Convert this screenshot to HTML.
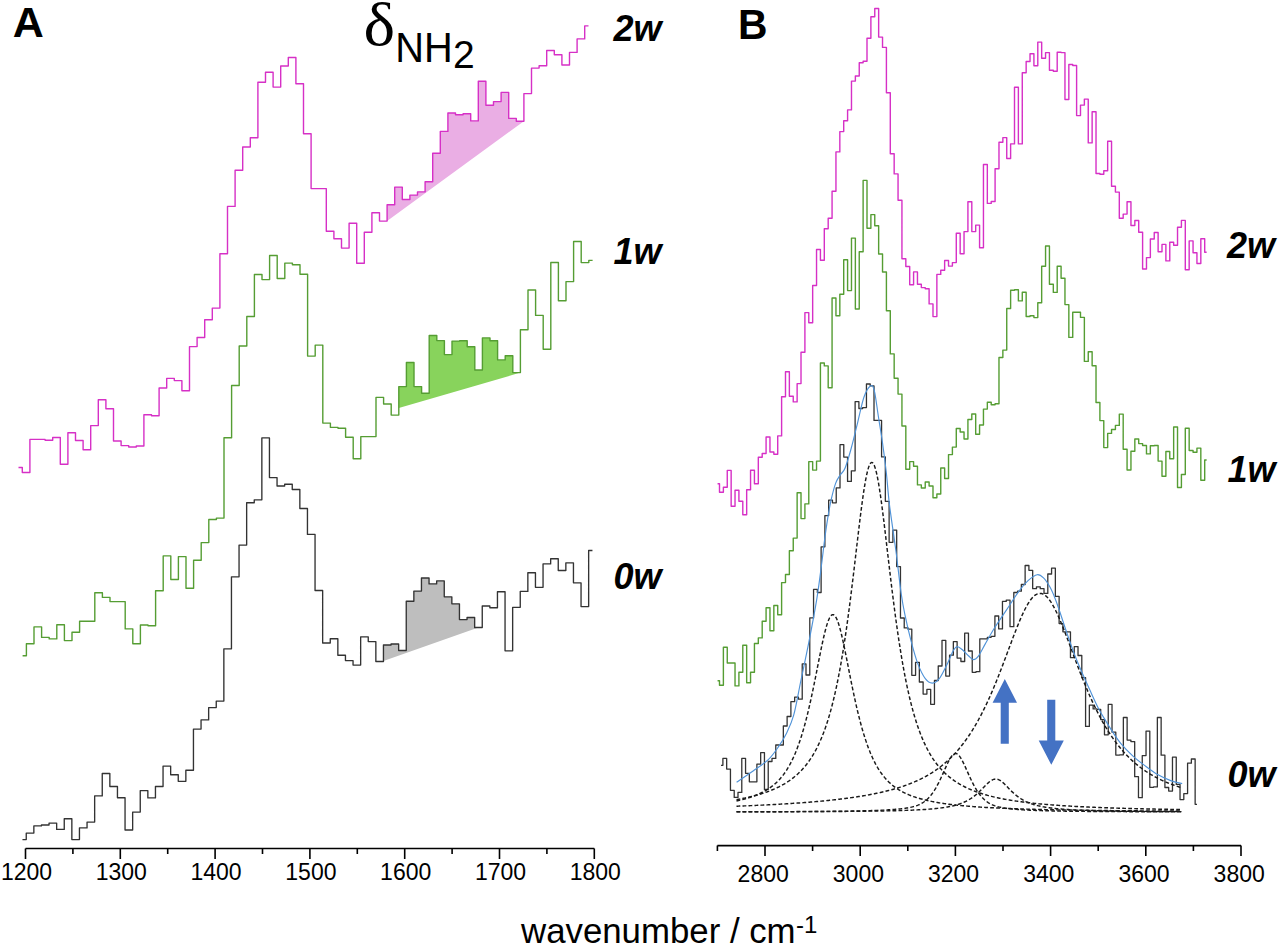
<!DOCTYPE html>
<html><head><meta charset="utf-8"><style>
html,body{margin:0;padding:0;background:#fff;overflow:hidden;}
svg{display:block;}
text{font-family:"Liberation Sans",sans-serif;fill:#000;}
.tl{font-size:23px;text-anchor:middle;}
.pl{font-size:43px;font-weight:bold;}
.wl{font-size:36px;font-weight:bold;font-style:italic;}
.dl{font-family:"Liberation Serif",serif;font-size:61px;}
.nh{font-size:43px;}
.n2{font-size:39px;}
.xl{font-size:34.8px;}
.xs{font-size:24px;}
</style></head><body>
<svg width="1280" height="946" viewBox="0 0 1280 946">
<path d="M25.5,848.5H594.3" stroke="#000" stroke-width="1.6" fill="none"/>
<path d="M25.5,848.5v10.5M72.9,848.5v5.5M120.3,848.5v10.5M167.7,848.5v5.5M215.1,848.5v10.5M262.5,848.5v5.5M309.9,848.5v10.5M357.3,848.5v5.5M404.7,848.5v10.5M452.1,848.5v5.5M499.5,848.5v10.5M546.9,848.5v5.5M594.3,848.5v10.5" stroke="#000" stroke-width="1.6" fill="none"/>
<text x="26.5" y="880.3" class="tl">1200</text>
<text x="121.3" y="880.3" class="tl">1300</text>
<text x="216.1" y="880.3" class="tl">1400</text>
<text x="310.9" y="880.3" class="tl">1500</text>
<text x="405.7" y="880.3" class="tl">1600</text>
<text x="500.5" y="880.3" class="tl">1700</text>
<text x="595.3" y="880.3" class="tl">1800</text>
<path d="M717.4,845.6H1241.0" stroke="#000" stroke-width="1.6" fill="none"/>
<path d="M717.4,845.6v5.5M765.0,845.6v10.5M812.6,845.6v5.5M860.2,845.6v10.5M907.8,845.6v5.5M955.4,845.6v10.5M1003.0,845.6v5.5M1050.6,845.6v10.5M1098.2,845.6v5.5M1145.8,845.6v10.5M1193.4,845.6v5.5M1241.0,845.6v10.5" stroke="#000" stroke-width="1.6" fill="none"/>
<text x="763.2" y="881.8" class="tl">2800</text>
<text x="858.4" y="881.8" class="tl">3000</text>
<text x="953.6" y="881.8" class="tl">3200</text>
<text x="1048.8" y="881.8" class="tl">3400</text>
<text x="1144.0" y="881.8" class="tl">3600</text>
<text x="1239.2" y="881.8" class="tl">3800</text>
<polygon points="387.10,221.10 387.10,204.80 394.70,204.80 394.70,187.10 402.30,187.10 402.30,199.50 409.90,199.50 409.90,195.10 417.50,195.10 417.50,191.90 425.10,191.90 425.10,181.70 432.70,181.70 432.70,153.30 440.30,153.30 440.30,131.40 447.90,131.40 447.90,113.00 455.50,113.00 455.50,114.80 463.10,114.80 463.10,113.80 470.70,113.80 470.70,120.90 478.30,120.90 478.30,81.30 485.90,81.30 485.90,105.30 493.50,105.30 493.50,101.60 501.10,101.60 501.10,92.40 508.70,92.40 508.70,118.40 516.30,118.40 516.30,121.20 523.90,121.20 523.90,121.20" fill="#eaaee4"/>
<polygon points="398.80,408.00 398.80,386.60 406.40,386.60 406.40,362.50 414.00,362.50 414.00,386.60 421.60,386.60 421.60,393.30 429.20,393.30 429.20,335.50 436.80,335.50 436.80,340.60 444.40,340.60 444.40,354.60 452.00,354.60 452.00,341.10 459.60,341.10 459.60,340.80 467.20,340.80 467.20,346.80 474.80,346.80 474.80,370.00 482.40,370.00 482.40,337.90 490.00,337.90 490.00,340.80 497.60,340.80 497.60,359.90 505.20,359.90 505.20,355.70 512.80,355.70 512.80,372.60 520.40,372.60 520.40,372.60" fill="#88d35c"/>
<polygon points="383.45,661.00 383.45,645.00 391.05,645.00 391.05,644.00 398.65,644.00 398.65,650.50 406.25,650.50 406.25,601.20 413.85,601.20 413.85,591.10 421.45,591.10 421.45,578.00 429.05,578.00 429.05,583.90 436.65,583.90 436.65,580.90 444.25,580.90 444.25,596.80 451.85,596.80 451.85,603.80 459.45,603.80 459.45,619.60 467.05,619.60 467.05,617.50 474.65,617.50 474.65,627.50 478.40,627.50 478.40,627.50" fill="#bebebe"/>
<path d="M18.50,467.50H22.30V472.50H29.90V439.40H37.50V439.40H45.10V440.20H52.70V437.50H60.30V464.20H67.90V432.80H75.50V440.50H83.10V449.80H90.70V425.60H98.30V399.80H105.90V408.75H113.50V441.00H121.10V445.60H128.70V447.00H136.30V446.00H143.90V414.70H151.50V415.80H159.10V388.00H166.70V378.40H174.30V380.60H181.90V390.80H189.50V346.60H197.10V337.50H204.70V319.70H212.30V308.10H219.90V253.70H227.50V206.40H235.10V170.20H242.70V147.00H250.30V137.70H257.90V82.30H265.50V72.30H273.10V87.10H280.70V66.00H288.30V57.50H295.90V83.80H303.50V133.70H311.10V188.60H318.70V188.60H326.30V231.20H333.90V238.80H341.50V248.10H349.10V223.20H356.70V263.30H364.30V232.20H371.90V212.80H379.50V221.10H387.10V204.80H394.70V187.10H402.30V199.50H409.90V195.10H417.50V191.90H425.10V181.70H432.70V153.30H440.30V131.40H447.90V113.00H455.50V114.80H463.10V113.80H470.70V120.90H478.30V81.30H485.90V105.30H493.50V101.60H501.10V92.40H508.70V118.40H516.30V121.20H523.90V93.60H531.50V68.10H539.10V65.70H546.70V50.50H554.30V54.80H561.90V65.00H569.50V52.40H577.10V38.90H584.70V25.90H588.50" stroke="#d630c6" stroke-width="1.4" fill="none" stroke-linejoin="round"/>
<path d="M22.60,655.80H26.40V643.80H34.00V626.90H41.60V637.40H49.20V638.90H56.80V624.70H64.40V640.60H72.00V632.30H79.60V621.20H87.20V621.20H94.80V592.70H102.40V597.40H110.00V601.60H117.60V601.60H125.20V628.90H132.80V643.80H140.40V625.00H148.00V625.70H155.60V590.70H163.20V555.90H170.80V579.50H178.40V556.60H186.00V588.20H193.60V560.30H201.20V542.60H208.80V519.50H216.40V518.10H224.00V437.80H231.60V385.50H239.20V346.00H246.80V316.50H254.40V274.50H262.00V279.60H269.60V255.50H277.20V278.50H284.80V263.10H292.40V264.70H300.00V274.30H307.60V356.10H315.20V345.10H322.80V423.10H330.40V427.40H338.00V428.30H345.60V437.30H353.20V458.80H360.80V436.60H368.40V436.60H376.00V397.40H383.60V404.00H391.20V415.10H398.80V386.60H406.40V362.50H414.00V386.60H421.60V393.30H429.20V335.50H436.80V340.60H444.40V354.60H452.00V341.10H459.60V340.80H467.20V346.80H474.80V370.00H482.40V337.90H490.00V340.80H497.60V359.90H505.20V355.70H512.80V372.60H520.40V329.80H528.00V290.00H535.60V315.40H543.20V349.20H550.80V262.50H558.40V300.70H566.00V281.60H573.60V241.50H581.20V262.60H588.80V260.40H592.60" stroke="#559d33" stroke-width="1.4" fill="none" stroke-linejoin="round"/>
<path d="M22.45,839.60H26.25V833.10H33.85V825.90H41.45V825.00H49.05V823.10H56.65V829.40H64.25V818.75H71.85V839.60H79.45V827.90H87.05V822.10H94.65V795.90H102.25V773.50H109.85V786.50H117.45V797.75H125.05V830.00H132.65V812.10H140.25V790.60H147.85V797.90H155.45V786.50H163.05V766.10H170.65V774.70H178.25V781.30H185.85V770.20H193.45V729.10H201.05V719.90H208.65V707.60H216.25V701.10H223.85V648.80H231.45V576.80H239.05V545.10H246.65V502.70H254.25V499.80H261.85V437.90H269.45V477.60H277.05V486.00H284.65V484.20H292.25V489.50H299.85V508.50H307.45V534.40H315.05V590.50H322.65V643.00H330.25V638.70H337.85V655.20H345.45V660.60H353.05V665.10H360.65V636.80H368.25V641.60H375.85V661.50H383.45V645.00H391.05V644.00H398.65V650.50H406.25V601.20H413.85V591.10H421.45V578.00H429.05V583.90H436.65V580.90H444.25V596.80H451.85V603.80H459.45V619.60H467.05V617.50H474.65V627.50H482.25V606.00H489.85V607.70H497.45V591.70H505.05V650.80H512.65V607.30H520.25V591.40H527.85V572.70H535.45V587.30H543.05V563.90H550.65V558.70H558.25V570.50H565.85V562.80H573.45V582.80H581.05V606.60H588.65V550.50H592.45" stroke="#333333" stroke-width="1.35" fill="none" stroke-linejoin="round"/>
<path d="M717.56,483.70H719.50V492.20H723.38V487.20H727.26V470.40H731.15V506.30H735.03V490.30H738.91V501.20H742.79V514.80H746.67V489.70H750.55V470.20H754.44V483.70H758.32V457.30H762.20V453.50H766.08V437.00H769.96V452.00H773.84V454.30H777.72V435.90H781.61V396.80H785.49V371.80H789.37V396.30H793.25V401.90H797.13V383.60H801.01V352.30H804.90V312.60H808.78V322.70H812.66V285.50H816.54V249.50H820.42V260.20H824.30V228.70H828.19V218.20H832.07V191.20H835.95V151.90H839.83V131.60H843.71V120.70H847.59V109.90H851.48V81.10H855.36V76.00H859.24V62.80H863.12V61.20H867.00V38.20H870.88V16.80H874.76V8.50H878.65V37.10H882.53V47.40H886.41V92.80H890.29V153.80H894.17V173.90H898.05V200.30H901.94V258.80H905.82V266.50H909.70V284.80H913.58V271.90H917.46V284.20H921.34V287.60H925.23V288.70H929.11V303.90H932.99V316.60H936.87V274.40H940.75V270.30H944.63V260.50H948.52V266.10H952.40V262.60H956.28V233.30H960.16V253.80H964.04V231.60H967.92V201.80H971.80V231.60H975.69V225.10H979.57V247.70H983.45V164.50H987.33V203.40H991.21V201.50H995.09V168.80H998.98V142.30H1002.86V137.60H1006.74V158.50H1010.62V143.90H1014.50V87.30H1018.38V143.90H1022.27V72.80H1026.15V61.50H1030.03V53.80H1033.91V65.80H1037.79V42.10H1041.67V58.20H1045.56V52.60H1049.44V70.30H1053.32V71.20H1057.20V52.20H1061.08V52.60H1064.96V99.50H1068.84V64.50H1072.73V65.50H1076.61V115.60H1080.49V105.10H1084.37V99.10H1088.25V142.90H1092.13V111.70H1096.02V173.50H1099.90V174.20H1103.78V170.80H1107.66V141.20H1111.54V186.30H1115.42V192.10H1119.31V218.20H1123.19V214.10H1127.07V201.70H1130.95V225.50H1134.83V220.50H1138.71V232.30H1142.60V269.00H1146.48V257.60H1150.36V239.00H1154.24V232.50H1158.12V251.70H1162.00V244.40H1165.88V260.90H1169.77V242.30H1173.65V245.20H1177.53V227.30H1181.41V220.40H1185.29V269.70H1189.17V240.90H1193.06V252.80H1196.94V263.50H1200.82V238.80H1204.70V252.30H1206.64" stroke="#d630c6" stroke-width="1.4" fill="none" stroke-linejoin="round"/>
<path d="M717.56,680.70H719.50V685.30H723.38V647.20H727.26V663.00H731.15V663.00H735.03V685.90H738.91V672.30H742.79V645.20H746.67V682.70H750.55V672.30H754.44V643.50H758.32V637.90H762.20V621.20H766.08V607.70H769.96V630.70H773.84V605.50H777.72V614.70H781.61V582.60H785.49V574.50H789.37V550.80H793.25V538.10H797.13V492.80H801.01V518.60H804.90V503.90H808.78V461.60H812.66V470.10H816.54V461.10H820.42V363.00H824.30V365.90H828.19V387.80H832.07V298.00H835.95V315.80H839.83V294.20H843.71V259.80H847.59V290.60H851.48V238.10H855.36V309.00H859.24V251.70H863.12V180.40H867.00V228.20H870.88V214.60H874.76V225.70H878.65V254.00H882.53V272.00H886.41V310.70H890.29V353.90H894.17V378.20H898.05V394.10H901.94V426.00H905.82V469.30H909.70V461.60H913.58V466.20H917.46V484.90H921.34V488.00H925.23V482.00H929.11V486.00H932.99V497.80H936.87V494.00H940.75V468.00H944.63V478.50H948.52V454.60H952.40V447.10H956.28V428.50H960.16V432.00H964.04V439.00H967.92V419.50H971.80V414.00H975.69V434.30H979.57V425.00H983.45V409.10H987.33V402.20H991.21V404.80H995.09V403.70H998.98V357.50H1002.86V350.10H1006.74V308.50H1010.62V290.30H1014.50V289.80H1018.38V300.90H1022.27V292.20H1026.15V316.50H1030.03V315.70H1033.91V317.60H1037.79V302.80H1041.67V266.30H1045.56V246.00H1049.44V284.20H1053.32V292.40H1057.20V266.30H1061.08V278.30H1064.96V304.60H1068.84V337.40H1072.73V312.30H1076.61V312.30H1080.49V317.40H1084.37V361.40H1088.25V351.70H1092.13V365.80H1096.02V402.50H1099.90V420.60H1103.78V447.60H1107.66V433.40H1111.54V429.50H1115.42V425.40H1119.31V414.10H1123.19V449.20H1127.07V470.00H1130.95V451.30H1134.83V439.00H1138.71V443.60H1142.60V445.50H1146.48V453.90H1150.36V445.70H1154.24V445.50H1158.12V461.10H1162.00V476.30H1165.88V451.50H1169.77V458.70H1173.65V427.00H1177.53V487.50H1181.41V474.50H1185.29V428.30H1189.17V450.50H1193.06V452.30H1196.94V448.10H1200.82V480.30H1204.70V460.00H1206.64" stroke="#559d33" stroke-width="1.4" fill="none" stroke-linejoin="round"/>
<path d="M721.00,765.30H722.89V758.40H726.67V769.10H730.45V790.30H734.22V797.40H738.00V792.40H741.78V758.40H745.56V773.30H749.34V781.80H753.11V781.80H756.89V764.10H760.67V752.60H764.45V789.40H768.23V761.50H772.00V758.40H775.78V745.00H779.56V745.00H783.34V726.00H787.12V716.50H790.89V701.70H794.67V697.10H798.45V699.20H802.23V663.90H806.00V675.00H809.78V617.90H813.56V589.30H817.34V592.50H821.12V546.80H824.89V515.60H828.67V500.10H832.45V502.80H836.23V487.90H840.01V444.60H843.78V457.10H847.56V481.40H851.34V470.80H855.12V401.70H858.90V408.50H862.67V407.60H866.45V384.00H870.23V385.90H874.01V420.40H877.79V420.40H881.57V456.90H885.34V501.30H889.12V542.30H892.90V530.20H896.68V566.60H900.46V618.00H904.23V627.90H908.01V629.20H911.79V675.30H915.57V662.30H919.35V682.00H923.12V694.10H926.90V689.30H930.68V704.30H934.46V680.50H938.24V666.00H942.01V640.30H945.79V676.10H949.57V655.20H953.35V641.60H957.12V658.10H960.90V661.50H964.68V633.20H968.46V651.00H972.24V672.30H976.01V671.70H979.79V638.80H983.57V638.80H987.35V637.30H991.13V636.30H994.90V616.00H998.68V628.90H1002.46V601.40H1006.24V600.10H1010.02V626.70H1013.80V592.50H1017.57V591.20H1021.35V584.50H1025.13V565.50H1028.91V570.30H1032.68V588.70H1036.46V586.80H1040.24V588.70H1044.02V593.40H1047.80V574.00H1051.58V568.20H1055.35V596.30H1059.13V623.60H1062.91V631.80H1066.69V631.80H1070.46V657.70H1074.24V646.60H1078.02V655.50H1081.80V677.70H1085.58V726.40H1089.36V705.10H1093.13V708.90H1096.91V709.30H1100.69V719.60H1104.47V734.80H1108.24V704.40H1112.02V732.20H1115.80V755.10H1119.58V754.80H1123.36V717.50H1127.13V740.10H1130.91V741.60H1134.69V776.70H1138.47V797.70H1142.25V755.60H1146.03V731.10H1149.80V787.30H1153.58V786.90H1157.36V717.50H1161.14V755.20H1164.91V787.50H1168.69V791.10H1172.47V757.10H1176.25V784.40H1180.03V799.60H1183.81V793.60H1187.58V763.20H1191.36V759.00H1195.14V804.30H1197.03" stroke="#333333" stroke-width="1.3" fill="none" stroke-linejoin="round"/>
<path d="M736.50,800.94 L737.50,800.72 L738.50,800.50 L739.50,800.26 L740.50,800.03 L741.50,799.78 L742.50,799.53 L743.50,799.27 L744.50,799.00 L745.50,798.72 L746.50,798.44 L747.50,798.14 L748.50,797.84 L749.50,797.52 L750.50,797.20 L751.50,796.86 L752.50,796.51 L753.50,796.15 L754.50,795.78 L755.50,795.39 L756.50,794.99 L757.50,794.58 L758.50,794.15 L759.50,793.70 L760.50,793.23 L761.50,792.75 L762.50,792.25 L763.50,791.73 L764.50,791.19 L765.50,790.62 L766.50,790.03 L767.50,789.42 L768.50,788.77 L769.50,788.10 L770.50,787.40 L771.50,786.67 L772.50,785.91 L773.50,785.10 L774.50,784.26 L775.50,783.39 L776.50,782.46 L777.50,781.50 L778.50,780.48 L779.50,779.42 L780.50,778.30 L781.50,777.12 L782.50,775.89 L783.50,774.59 L784.50,773.22 L785.50,771.79 L786.50,770.28 L787.50,768.69 L788.50,767.02 L789.50,765.27 L790.50,763.42 L791.50,761.48 L792.50,759.44 L793.50,757.30 L794.50,755.05 L795.50,752.69 L796.50,750.21 L797.50,747.61 L798.50,744.88 L799.50,742.03 L800.50,739.04 L801.50,735.91 L802.50,732.64 L803.50,729.23 L804.50,725.68 L805.50,721.97 L806.50,718.12 L807.50,714.12 L808.50,709.97 L809.50,705.68 L810.50,701.25 L811.50,696.68 L812.50,691.99 L813.50,687.19 L814.50,682.29 L815.50,677.31 L816.50,672.28 L817.50,667.20 L818.50,662.12 L819.50,657.07 L820.50,652.09 L821.50,647.21 L822.50,642.49 L823.50,637.97 L824.50,633.71 L825.50,629.75 L826.50,626.15 L827.50,622.96 L828.50,620.23 L829.50,618.00 L830.50,616.31 L831.50,615.18 L832.50,614.65 L833.50,614.71 L834.50,615.36 L835.50,616.60 L836.50,618.40 L837.50,620.73 L838.50,623.56 L839.50,626.84 L840.50,630.51 L841.50,634.54 L842.50,638.86 L843.50,643.42 L844.50,648.18 L845.50,653.08 L846.50,658.08 L847.50,663.14 L848.50,668.22 L849.50,673.29 L850.50,678.32 L851.50,683.28 L852.50,688.16 L853.50,692.94 L854.50,697.61 L855.50,702.14 L856.50,706.55 L857.50,710.81 L858.50,714.93 L859.50,718.90 L860.50,722.72 L861.50,726.40 L862.50,729.93 L863.50,733.31 L864.50,736.55 L865.50,739.65 L866.50,742.61 L867.50,745.44 L868.50,748.14 L869.50,750.71 L870.50,753.17 L871.50,755.51 L872.50,757.74 L873.50,759.86 L874.50,761.88 L875.50,763.80 L876.50,765.62 L877.50,767.36 L878.50,769.01 L879.50,770.59 L880.50,772.08 L881.50,773.50 L882.50,774.85 L883.50,776.14 L884.50,777.36 L885.50,778.52 L886.50,779.63 L887.50,780.69 L888.50,781.69 L889.50,782.65 L890.50,783.56 L891.50,784.44 L892.50,785.27 L893.50,786.06 L894.50,786.82 L895.50,787.55 L896.50,788.24 L897.50,788.90 L898.50,789.54 L899.50,790.15 L900.50,790.73 L901.50,791.30 L902.50,791.83 L903.50,792.35 L904.50,792.85 L905.50,793.33 L906.50,793.79 L907.50,794.23 L908.50,794.66 L909.50,795.07 L910.50,795.47 L911.50,795.85 L912.50,796.22 L913.50,796.58 L914.50,796.93 L915.50,797.26 L916.50,797.58 L917.50,797.90 L918.50,798.20 L919.50,798.49 L920.50,798.78 L921.50,799.05 L922.50,799.32 L923.50,799.58 L924.50,799.83 L925.50,800.07 L926.50,800.31 L927.50,800.54 L928.50,800.76 L929.50,800.98 L930.50,801.19 L931.50,801.40 L932.50,801.60 L933.50,801.79 L934.50,801.98 L935.50,802.16 L936.50,802.34 L937.50,802.51 L938.50,802.68 L939.50,802.85 L940.50,803.01 L941.50,803.16 L942.50,803.32 L943.50,803.47 L944.50,803.61 L945.50,803.75 L946.50,803.89 L947.50,804.02 L948.50,804.16 L949.50,804.28 L950.50,804.41 L951.50,804.53 L952.50,804.65 L953.50,804.77 L954.50,804.88 L955.50,804.99 L956.50,805.10 L957.50,805.20 L958.50,805.31 L959.50,805.41 L960.50,805.51 L961.50,805.61 L962.50,805.70 L963.50,805.79 L964.50,805.88 L965.50,805.97 L966.50,806.06 L967.50,806.14 L968.50,806.23 L969.50,806.31 L970.50,806.39 L971.50,806.47 L972.50,806.54 L973.50,806.62 L974.50,806.69 L975.50,806.76 L976.50,806.83 L977.50,806.90 L978.50,806.97 L979.50,807.04 L980.50,807.10 L981.50,807.17 L982.50,807.23 L983.50,807.29 L984.50,807.35 L985.50,807.41 L986.50,807.47 L987.50,807.52 L988.50,807.58 L989.50,807.64 L990.50,807.69 L991.50,807.74 L992.50,807.79 L993.50,807.84 L994.50,807.89 L995.50,807.94 L996.50,807.99 L997.50,808.04 L998.50,808.09 L999.50,808.13 L1000.50,808.18 L1001.50,808.22 L1002.50,808.26 L1003.50,808.31 L1004.50,808.35 L1005.50,808.39 L1006.50,808.43 L1007.50,808.47 L1008.50,808.51 L1009.50,808.55 L1010.50,808.59 L1011.50,808.62 L1012.50,808.66 L1013.50,808.70 L1014.50,808.73 L1015.50,808.77 L1016.50,808.80 L1017.50,808.84 L1018.50,808.87 L1019.50,808.90 L1020.50,808.94 L1021.50,808.97 L1022.50,809.00 L1023.50,809.03 L1024.50,809.06 L1025.50,809.09 L1026.50,809.12 L1027.50,809.15 L1028.50,809.18 L1029.50,809.20 L1030.50,809.23 L1031.50,809.26 L1032.50,809.29 L1033.50,809.31 L1034.50,809.34 L1035.50,809.37 L1036.50,809.39 L1037.50,809.42 L1038.50,809.44 L1039.50,809.47 L1040.50,809.49 L1041.50,809.51 L1042.50,809.54 L1043.50,809.56 L1044.50,809.58 L1045.50,809.60 L1046.50,809.63 L1047.50,809.65 L1048.50,809.67 L1049.50,809.69 L1050.50,809.71 L1051.50,809.73 L1052.50,809.75 L1053.50,809.77 L1054.50,809.79 L1055.50,809.81 L1056.50,809.83 L1057.50,809.85 L1058.50,809.87 L1059.50,809.89 L1060.50,809.91 L1061.50,809.92 L1062.50,809.94 L1063.50,809.96 L1064.50,809.98 L1065.50,809.99 L1066.50,810.01 L1067.50,810.03 L1068.50,810.04 L1069.50,810.06 L1070.50,810.08 L1071.50,810.09 L1072.50,810.11 L1073.50,810.12 L1074.50,810.14 L1075.50,810.15 L1076.50,810.17 L1077.50,810.18 L1078.50,810.20 L1079.50,810.21 L1080.50,810.23 L1081.50,810.24 L1082.50,810.26 L1083.50,810.27 L1084.50,810.28 L1085.50,810.30 L1086.50,810.31 L1087.50,810.32 L1088.50,810.34 L1089.50,810.35 L1090.50,810.36 L1091.50,810.37 L1092.50,810.39 L1093.50,810.40 L1094.50,810.41 L1095.50,810.42 L1096.50,810.43 L1097.50,810.45 L1098.50,810.46 L1099.50,810.47 L1100.50,810.48 L1101.50,810.49 L1102.50,810.50 L1103.50,810.51 L1104.50,810.52 L1105.50,810.53 L1106.50,810.55 L1107.50,810.56 L1108.50,810.57 L1109.50,810.58 L1110.50,810.59 L1111.50,810.60 L1112.50,810.61 L1113.50,810.62 L1114.50,810.63 L1115.50,810.64 L1116.50,810.65 L1117.50,810.65 L1118.50,810.66 L1119.50,810.67 L1120.50,810.68 L1121.50,810.69 L1122.50,810.70 L1123.50,810.71 L1124.50,810.72 L1125.50,810.73 L1126.50,810.74 L1127.50,810.74 L1128.50,810.75 L1129.50,810.76 L1130.50,810.77 L1131.50,810.78 L1132.50,810.79 L1133.50,810.79 L1134.50,810.80 L1135.50,810.81 L1136.50,810.82 L1137.50,810.82 L1138.50,810.83 L1139.50,810.84 L1140.50,810.85 L1141.50,810.85 L1142.50,810.86 L1143.50,810.87 L1144.50,810.88 L1145.50,810.88 L1146.50,810.89 L1147.50,810.90 L1148.50,810.90 L1149.50,810.91 L1150.50,810.92 L1151.50,810.92 L1152.50,810.93 L1153.50,810.94 L1154.50,810.94 L1155.50,810.95 L1156.50,810.96 L1157.50,810.96 L1158.50,810.97 L1159.50,810.98 L1160.50,810.98 L1161.50,810.99 L1162.50,811.00 L1163.50,811.00 L1164.50,811.01 L1165.50,811.01 L1166.50,811.02 L1167.50,811.02 L1168.50,811.03 L1169.50,811.04 L1170.50,811.04 L1171.50,811.05 L1172.50,811.05 L1173.50,811.06 L1174.50,811.06 L1175.50,811.07 L1176.50,811.07 L1177.50,811.08 L1178.50,811.09 L1179.50,811.09 L1180.50,811.10 L1181.50,811.10" stroke="#1a1a1a" stroke-width="1.45" fill="none" stroke-dasharray="3.8 2.2"/>
<path d="M736.50,799.64 L737.50,799.46 L738.50,799.28 L739.50,799.10 L740.50,798.91 L741.50,798.71 L742.50,798.51 L743.50,798.31 L744.50,798.11 L745.50,797.89 L746.50,797.68 L747.50,797.46 L748.50,797.23 L749.50,797.00 L750.50,796.76 L751.50,796.52 L752.50,796.27 L753.50,796.02 L754.50,795.76 L755.50,795.49 L756.50,795.22 L757.50,794.94 L758.50,794.65 L759.50,794.36 L760.50,794.05 L761.50,793.75 L762.50,793.43 L763.50,793.10 L764.50,792.77 L765.50,792.43 L766.50,792.08 L767.50,791.72 L768.50,791.35 L769.50,790.97 L770.50,790.58 L771.50,790.17 L772.50,789.76 L773.50,789.34 L774.50,788.90 L775.50,788.45 L776.50,787.99 L777.50,787.52 L778.50,787.03 L779.50,786.53 L780.50,786.01 L781.50,785.48 L782.50,784.93 L783.50,784.36 L784.50,783.78 L785.50,783.17 L786.50,782.55 L787.50,781.91 L788.50,781.25 L789.50,780.56 L790.50,779.86 L791.50,779.13 L792.50,778.37 L793.50,777.59 L794.50,776.79 L795.50,775.95 L796.50,775.09 L797.50,774.19 L798.50,773.26 L799.50,772.30 L800.50,771.30 L801.50,770.27 L802.50,769.19 L803.50,768.08 L804.50,766.92 L805.50,765.72 L806.50,764.46 L807.50,763.16 L808.50,761.81 L809.50,760.40 L810.50,758.93 L811.50,757.40 L812.50,755.81 L813.50,754.15 L814.50,752.42 L815.50,750.61 L816.50,748.72 L817.50,746.75 L818.50,744.69 L819.50,742.55 L820.50,740.30 L821.50,737.95 L822.50,735.50 L823.50,732.93 L824.50,730.25 L825.50,727.44 L826.50,724.50 L827.50,721.43 L828.50,718.22 L829.50,714.85 L830.50,711.34 L831.50,707.65 L832.50,703.80 L833.50,699.78 L834.50,695.56 L835.50,691.16 L836.50,686.56 L837.50,681.75 L838.50,676.73 L839.50,671.49 L840.50,666.03 L841.50,660.33 L842.50,654.41 L843.50,648.24 L844.50,641.83 L845.50,635.18 L846.50,628.29 L847.50,621.16 L848.50,613.80 L849.50,606.22 L850.50,598.43 L851.50,590.44 L852.50,582.29 L853.50,573.98 L854.50,565.57 L855.50,557.07 L856.50,548.55 L857.50,540.04 L858.50,531.61 L859.50,523.31 L860.50,515.23 L861.50,507.43 L862.50,500.00 L863.50,493.01 L864.50,486.55 L865.50,480.71 L866.50,475.56 L867.50,471.17 L868.50,467.62 L869.50,464.95 L870.50,463.22 L871.50,462.44 L872.50,462.64 L873.50,463.80 L874.50,465.91 L875.50,468.94 L876.50,472.83 L877.50,477.53 L878.50,482.97 L879.50,489.06 L880.50,495.74 L881.50,502.92 L882.50,510.51 L883.50,518.43 L884.50,526.61 L885.50,534.97 L886.50,543.44 L887.50,551.96 L888.50,560.48 L889.50,568.94 L890.50,577.32 L891.50,585.57 L892.50,593.66 L893.50,601.57 L894.50,609.28 L895.50,616.77 L896.50,624.04 L897.50,631.07 L898.50,637.87 L899.50,644.42 L900.50,650.73 L901.50,656.81 L902.50,662.64 L903.50,668.24 L904.50,673.61 L905.50,678.76 L906.50,683.70 L907.50,688.42 L908.50,692.94 L909.50,697.27 L910.50,701.41 L911.50,705.36 L912.50,709.15 L913.50,712.76 L914.50,716.22 L915.50,719.52 L916.50,722.68 L917.50,725.70 L918.50,728.58 L919.50,731.34 L920.50,733.97 L921.50,736.49 L922.50,738.90 L923.50,741.21 L924.50,743.42 L925.50,745.53 L926.50,747.55 L927.50,749.49 L928.50,751.34 L929.50,753.12 L930.50,754.82 L931.50,756.45 L932.50,758.02 L933.50,759.53 L934.50,760.97 L935.50,762.36 L936.50,763.69 L937.50,764.97 L938.50,766.20 L939.50,767.39 L940.50,768.53 L941.50,769.63 L942.50,770.69 L943.50,771.71 L944.50,772.69 L945.50,773.64 L946.50,774.55 L947.50,775.44 L948.50,776.29 L949.50,777.11 L950.50,777.91 L951.50,778.68 L952.50,779.42 L953.50,780.14 L954.50,780.84 L955.50,781.52 L956.50,782.17 L957.50,782.80 L958.50,783.42 L959.50,784.01 L960.50,784.59 L961.50,785.15 L962.50,785.69 L963.50,786.22 L964.50,786.73 L965.50,787.23 L966.50,787.71 L967.50,788.18 L968.50,788.64 L969.50,789.08 L970.50,789.51 L971.50,789.93 L972.50,790.34 L973.50,790.73 L974.50,791.12 L975.50,791.50 L976.50,791.86 L977.50,792.22 L978.50,792.57 L979.50,792.91 L980.50,793.24 L981.50,793.56 L982.50,793.87 L983.50,794.18 L984.50,794.47 L985.50,794.77 L986.50,795.05 L987.50,795.33 L988.50,795.60 L989.50,795.86 L990.50,796.12 L991.50,796.37 L992.50,796.62 L993.50,796.86 L994.50,797.09 L995.50,797.32 L996.50,797.55 L997.50,797.76 L998.50,797.98 L999.50,798.19 L1000.50,798.39 L1001.50,798.59 L1002.50,798.79 L1003.50,798.98 L1004.50,799.17 L1005.50,799.35 L1006.50,799.53 L1007.50,799.71 L1008.50,799.88 L1009.50,800.05 L1010.50,800.22 L1011.50,800.38 L1012.50,800.54 L1013.50,800.69 L1014.50,800.85 L1015.50,801.00 L1016.50,801.14 L1017.50,801.29 L1018.50,801.43 L1019.50,801.57 L1020.50,801.70 L1021.50,801.83 L1022.50,801.97 L1023.50,802.09 L1024.50,802.22 L1025.50,802.34 L1026.50,802.46 L1027.50,802.58 L1028.50,802.70 L1029.50,802.81 L1030.50,802.92 L1031.50,803.03 L1032.50,803.14 L1033.50,803.25 L1034.50,803.35 L1035.50,803.46 L1036.50,803.56 L1037.50,803.66 L1038.50,803.75 L1039.50,803.85 L1040.50,803.94 L1041.50,804.04 L1042.50,804.13 L1043.50,804.22 L1044.50,804.30 L1045.50,804.39 L1046.50,804.47 L1047.50,804.56 L1048.50,804.64 L1049.50,804.72 L1050.50,804.80 L1051.50,804.88 L1052.50,804.96 L1053.50,805.03 L1054.50,805.11 L1055.50,805.18 L1056.50,805.25 L1057.50,805.32 L1058.50,805.39 L1059.50,805.46 L1060.50,805.53 L1061.50,805.60 L1062.50,805.66 L1063.50,805.73 L1064.50,805.79 L1065.50,805.85 L1066.50,805.91 L1067.50,805.98 L1068.50,806.04 L1069.50,806.09 L1070.50,806.15 L1071.50,806.21 L1072.50,806.27 L1073.50,806.32 L1074.50,806.38 L1075.50,806.43 L1076.50,806.48 L1077.50,806.54 L1078.50,806.59 L1079.50,806.64 L1080.50,806.69 L1081.50,806.74 L1082.50,806.79 L1083.50,806.84 L1084.50,806.89 L1085.50,806.93 L1086.50,806.98 L1087.50,807.02 L1088.50,807.07 L1089.50,807.11 L1090.50,807.16 L1091.50,807.20 L1092.50,807.24 L1093.50,807.29 L1094.50,807.33 L1095.50,807.37 L1096.50,807.41 L1097.50,807.45 L1098.50,807.49 L1099.50,807.53 L1100.50,807.57 L1101.50,807.61 L1102.50,807.64 L1103.50,807.68 L1104.50,807.72 L1105.50,807.75 L1106.50,807.79 L1107.50,807.82 L1108.50,807.86 L1109.50,807.89 L1110.50,807.93 L1111.50,807.96 L1112.50,807.99 L1113.50,808.03 L1114.50,808.06 L1115.50,808.09 L1116.50,808.12 L1117.50,808.15 L1118.50,808.18 L1119.50,808.21 L1120.50,808.24 L1121.50,808.27 L1122.50,808.30 L1123.50,808.33 L1124.50,808.36 L1125.50,808.39 L1126.50,808.42 L1127.50,808.44 L1128.50,808.47 L1129.50,808.50 L1130.50,808.53 L1131.50,808.55 L1132.50,808.58 L1133.50,808.60 L1134.50,808.63 L1135.50,808.65 L1136.50,808.68 L1137.50,808.70 L1138.50,808.73 L1139.50,808.75 L1140.50,808.78 L1141.50,808.80 L1142.50,808.82 L1143.50,808.85 L1144.50,808.87 L1145.50,808.89 L1146.50,808.91 L1147.50,808.94 L1148.50,808.96 L1149.50,808.98 L1150.50,809.00 L1151.50,809.02 L1152.50,809.04 L1153.50,809.06 L1154.50,809.09 L1155.50,809.11 L1156.50,809.13 L1157.50,809.15 L1158.50,809.17 L1159.50,809.18 L1160.50,809.20 L1161.50,809.22 L1162.50,809.24 L1163.50,809.26 L1164.50,809.28 L1165.50,809.30 L1166.50,809.32 L1167.50,809.33 L1168.50,809.35 L1169.50,809.37 L1170.50,809.39 L1171.50,809.40 L1172.50,809.42 L1173.50,809.44 L1174.50,809.45 L1175.50,809.47 L1176.50,809.49 L1177.50,809.50 L1178.50,809.52 L1179.50,809.54 L1180.50,809.55 L1181.50,809.57" stroke="#1a1a1a" stroke-width="1.45" fill="none" stroke-dasharray="3.8 2.2"/>
<path d="M736.50,811.78 L737.50,811.78 L738.50,811.78 L739.50,811.78 L740.50,811.78 L741.50,811.77 L742.50,811.77 L743.50,811.77 L744.50,811.77 L745.50,811.77 L746.50,811.76 L747.50,811.76 L748.50,811.76 L749.50,811.76 L750.50,811.75 L751.50,811.75 L752.50,811.75 L753.50,811.75 L754.50,811.74 L755.50,811.74 L756.50,811.74 L757.50,811.74 L758.50,811.73 L759.50,811.73 L760.50,811.73 L761.50,811.73 L762.50,811.72 L763.50,811.72 L764.50,811.72 L765.50,811.71 L766.50,811.71 L767.50,811.71 L768.50,811.70 L769.50,811.70 L770.50,811.70 L771.50,811.70 L772.50,811.69 L773.50,811.69 L774.50,811.69 L775.50,811.68 L776.50,811.68 L777.50,811.67 L778.50,811.67 L779.50,811.67 L780.50,811.66 L781.50,811.66 L782.50,811.66 L783.50,811.65 L784.50,811.65 L785.50,811.64 L786.50,811.64 L787.50,811.63 L788.50,811.63 L789.50,811.63 L790.50,811.62 L791.50,811.62 L792.50,811.61 L793.50,811.61 L794.50,811.60 L795.50,811.60 L796.50,811.59 L797.50,811.59 L798.50,811.58 L799.50,811.58 L800.50,811.57 L801.50,811.57 L802.50,811.56 L803.50,811.56 L804.50,811.55 L805.50,811.54 L806.50,811.54 L807.50,811.53 L808.50,811.52 L809.50,811.52 L810.50,811.51 L811.50,811.51 L812.50,811.50 L813.50,811.49 L814.50,811.48 L815.50,811.48 L816.50,811.47 L817.50,811.46 L818.50,811.45 L819.50,811.45 L820.50,811.44 L821.50,811.43 L822.50,811.42 L823.50,811.41 L824.50,811.40 L825.50,811.39 L826.50,811.39 L827.50,811.38 L828.50,811.37 L829.50,811.36 L830.50,811.35 L831.50,811.34 L832.50,811.33 L833.50,811.31 L834.50,811.30 L835.50,811.29 L836.50,811.28 L837.50,811.27 L838.50,811.26 L839.50,811.24 L840.50,811.23 L841.50,811.22 L842.50,811.20 L843.50,811.19 L844.50,811.17 L845.50,811.16 L846.50,811.15 L847.50,811.13 L848.50,811.11 L849.50,811.10 L850.50,811.08 L851.50,811.06 L852.50,811.05 L853.50,811.03 L854.50,811.01 L855.50,810.99 L856.50,810.97 L857.50,810.95 L858.50,810.93 L859.50,810.91 L860.50,810.88 L861.50,810.86 L862.50,810.84 L863.50,810.81 L864.50,810.79 L865.50,810.76 L866.50,810.73 L867.50,810.71 L868.50,810.68 L869.50,810.65 L870.50,810.62 L871.50,810.58 L872.50,810.55 L873.50,810.52 L874.50,810.48 L875.50,810.45 L876.50,810.41 L877.50,810.37 L878.50,810.33 L879.50,810.29 L880.50,810.24 L881.50,810.20 L882.50,810.15 L883.50,810.10 L884.50,810.05 L885.50,810.00 L886.50,809.94 L887.50,809.88 L888.50,809.82 L889.50,809.76 L890.50,809.70 L891.50,809.63 L892.50,809.56 L893.50,809.48 L894.50,809.41 L895.50,809.32 L896.50,809.24 L897.50,809.15 L898.50,809.05 L899.50,808.95 L900.50,808.85 L901.50,808.74 L902.50,808.62 L903.50,808.50 L904.50,808.36 L905.50,808.22 L906.50,808.07 L907.50,807.91 L908.50,807.74 L909.50,807.55 L910.50,807.35 L911.50,807.13 L912.50,806.89 L913.50,806.63 L914.50,806.35 L915.50,806.04 L916.50,805.71 L917.50,805.34 L918.50,804.93 L919.50,804.49 L920.50,804.00 L921.50,803.47 L922.50,802.88 L923.50,802.24 L924.50,801.54 L925.50,800.77 L926.50,799.93 L927.50,799.02 L928.50,798.02 L929.50,796.94 L930.50,795.78 L931.50,794.52 L932.50,793.17 L933.50,791.72 L934.50,790.18 L935.50,788.54 L936.50,786.80 L937.50,784.97 L938.50,783.05 L939.50,781.04 L940.50,778.95 L941.50,776.80 L942.50,774.60 L943.50,772.36 L944.50,770.10 L945.50,767.85 L946.50,765.64 L947.50,763.50 L948.50,761.46 L949.50,759.57 L950.50,757.86 L951.50,756.39 L952.50,755.18 L953.50,754.28 L954.50,753.72 L955.50,753.50 L956.50,753.65 L957.50,754.14 L958.50,754.98 L959.50,756.12 L960.50,757.55 L961.50,759.21 L962.50,761.07 L963.50,763.08 L964.50,765.21 L965.50,767.41 L966.50,769.65 L967.50,771.91 L968.50,774.15 L969.50,776.37 L970.50,778.53 L971.50,780.63 L972.50,782.65 L973.50,784.59 L974.50,786.44 L975.50,788.20 L976.50,789.86 L977.50,791.42 L978.50,792.89 L979.50,794.26 L980.50,795.53 L981.50,796.72 L982.50,797.81 L983.50,798.82 L984.50,799.75 L985.50,800.61 L986.50,801.39 L987.50,802.11 L988.50,802.76 L989.50,803.36 L990.50,803.90 L991.50,804.40 L992.50,804.85 L993.50,805.26 L994.50,805.64 L995.50,805.98 L996.50,806.29 L997.50,806.58 L998.50,806.84 L999.50,807.08 L1000.50,807.30 L1001.50,807.51 L1002.50,807.70 L1003.50,807.88 L1004.50,808.04 L1005.50,808.19 L1006.50,808.34 L1007.50,808.47 L1008.50,808.60 L1009.50,808.72 L1010.50,808.83 L1011.50,808.93 L1012.50,809.03 L1013.50,809.13 L1014.50,809.22 L1015.50,809.31 L1016.50,809.39 L1017.50,809.47 L1018.50,809.54 L1019.50,809.61 L1020.50,809.68 L1021.50,809.75 L1022.50,809.81 L1023.50,809.87 L1024.50,809.93 L1025.50,809.99 L1026.50,810.04 L1027.50,810.09 L1028.50,810.14 L1029.50,810.19 L1030.50,810.23 L1031.50,810.28 L1032.50,810.32 L1033.50,810.36 L1034.50,810.40 L1035.50,810.44 L1036.50,810.47 L1037.50,810.51 L1038.50,810.54 L1039.50,810.58 L1040.50,810.61 L1041.50,810.64 L1042.50,810.67 L1043.50,810.70 L1044.50,810.73 L1045.50,810.75 L1046.50,810.78 L1047.50,810.81 L1048.50,810.83 L1049.50,810.86 L1050.50,810.88 L1051.50,810.90 L1052.50,810.92 L1053.50,810.94 L1054.50,810.97 L1055.50,810.99 L1056.50,811.00 L1057.50,811.02 L1058.50,811.04 L1059.50,811.06 L1060.50,811.08 L1061.50,811.09 L1062.50,811.11 L1063.50,811.13 L1064.50,811.14 L1065.50,811.16 L1066.50,811.17 L1067.50,811.19 L1068.50,811.20 L1069.50,811.21 L1070.50,811.23 L1071.50,811.24 L1072.50,811.25 L1073.50,811.27 L1074.50,811.28 L1075.50,811.29 L1076.50,811.30 L1077.50,811.31 L1078.50,811.32 L1079.50,811.33 L1080.50,811.34 L1081.50,811.35 L1082.50,811.36 L1083.50,811.37 L1084.50,811.38 L1085.50,811.39 L1086.50,811.40 L1087.50,811.41 L1088.50,811.42 L1089.50,811.43 L1090.50,811.44 L1091.50,811.44 L1092.50,811.45 L1093.50,811.46 L1094.50,811.47 L1095.50,811.48 L1096.50,811.48 L1097.50,811.49 L1098.50,811.50 L1099.50,811.50 L1100.50,811.51 L1101.50,811.52 L1102.50,811.52 L1103.50,811.53 L1104.50,811.54 L1105.50,811.54 L1106.50,811.55 L1107.50,811.55 L1108.50,811.56 L1109.50,811.57 L1110.50,811.57 L1111.50,811.58 L1112.50,811.58 L1113.50,811.59 L1114.50,811.59 L1115.50,811.60 L1116.50,811.60 L1117.50,811.61 L1118.50,811.61 L1119.50,811.62 L1120.50,811.62 L1121.50,811.63 L1122.50,811.63 L1123.50,811.63 L1124.50,811.64 L1125.50,811.64 L1126.50,811.65 L1127.50,811.65 L1128.50,811.65 L1129.50,811.66 L1130.50,811.66 L1131.50,811.67 L1132.50,811.67 L1133.50,811.67 L1134.50,811.68 L1135.50,811.68 L1136.50,811.68 L1137.50,811.69 L1138.50,811.69 L1139.50,811.69 L1140.50,811.70 L1141.50,811.70 L1142.50,811.70 L1143.50,811.71 L1144.50,811.71 L1145.50,811.71 L1146.50,811.72 L1147.50,811.72 L1148.50,811.72 L1149.50,811.72 L1150.50,811.73 L1151.50,811.73 L1152.50,811.73 L1153.50,811.74 L1154.50,811.74 L1155.50,811.74 L1156.50,811.74 L1157.50,811.75 L1158.50,811.75 L1159.50,811.75 L1160.50,811.75 L1161.50,811.76 L1162.50,811.76 L1163.50,811.76 L1164.50,811.76 L1165.50,811.77 L1166.50,811.77 L1167.50,811.77 L1168.50,811.77 L1169.50,811.77 L1170.50,811.78 L1171.50,811.78 L1172.50,811.78 L1173.50,811.78 L1174.50,811.78 L1175.50,811.79 L1176.50,811.79 L1177.50,811.79 L1178.50,811.79 L1179.50,811.79 L1180.50,811.80 L1181.50,811.80" stroke="#1a1a1a" stroke-width="1.45" fill="none" stroke-dasharray="3.8 2.2"/>
<path d="M736.50,811.80 L737.50,811.79 L738.50,811.79 L739.50,811.79 L740.50,811.79 L741.50,811.79 L742.50,811.79 L743.50,811.78 L744.50,811.78 L745.50,811.78 L746.50,811.78 L747.50,811.78 L748.50,811.78 L749.50,811.77 L750.50,811.77 L751.50,811.77 L752.50,811.77 L753.50,811.77 L754.50,811.76 L755.50,811.76 L756.50,811.76 L757.50,811.76 L758.50,811.76 L759.50,811.75 L760.50,811.75 L761.50,811.75 L762.50,811.75 L763.50,811.75 L764.50,811.74 L765.50,811.74 L766.50,811.74 L767.50,811.74 L768.50,811.73 L769.50,811.73 L770.50,811.73 L771.50,811.73 L772.50,811.72 L773.50,811.72 L774.50,811.72 L775.50,811.72 L776.50,811.71 L777.50,811.71 L778.50,811.71 L779.50,811.71 L780.50,811.70 L781.50,811.70 L782.50,811.70 L783.50,811.70 L784.50,811.69 L785.50,811.69 L786.50,811.69 L787.50,811.68 L788.50,811.68 L789.50,811.68 L790.50,811.67 L791.50,811.67 L792.50,811.67 L793.50,811.67 L794.50,811.66 L795.50,811.66 L796.50,811.66 L797.50,811.65 L798.50,811.65 L799.50,811.64 L800.50,811.64 L801.50,811.64 L802.50,811.63 L803.50,811.63 L804.50,811.63 L805.50,811.62 L806.50,811.62 L807.50,811.61 L808.50,811.61 L809.50,811.61 L810.50,811.60 L811.50,811.60 L812.50,811.59 L813.50,811.59 L814.50,811.58 L815.50,811.58 L816.50,811.57 L817.50,811.57 L818.50,811.57 L819.50,811.56 L820.50,811.56 L821.50,811.55 L822.50,811.55 L823.50,811.54 L824.50,811.53 L825.50,811.53 L826.50,811.52 L827.50,811.52 L828.50,811.51 L829.50,811.51 L830.50,811.50 L831.50,811.49 L832.50,811.49 L833.50,811.48 L834.50,811.48 L835.50,811.47 L836.50,811.46 L837.50,811.46 L838.50,811.45 L839.50,811.44 L840.50,811.44 L841.50,811.43 L842.50,811.42 L843.50,811.41 L844.50,811.41 L845.50,811.40 L846.50,811.39 L847.50,811.38 L848.50,811.37 L849.50,811.37 L850.50,811.36 L851.50,811.35 L852.50,811.34 L853.50,811.33 L854.50,811.32 L855.50,811.31 L856.50,811.30 L857.50,811.29 L858.50,811.28 L859.50,811.27 L860.50,811.26 L861.50,811.25 L862.50,811.24 L863.50,811.23 L864.50,811.22 L865.50,811.20 L866.50,811.19 L867.50,811.18 L868.50,811.17 L869.50,811.15 L870.50,811.14 L871.50,811.13 L872.50,811.11 L873.50,811.10 L874.50,811.08 L875.50,811.07 L876.50,811.05 L877.50,811.04 L878.50,811.02 L879.50,811.01 L880.50,810.99 L881.50,810.97 L882.50,810.96 L883.50,810.94 L884.50,810.92 L885.50,810.90 L886.50,810.88 L887.50,810.86 L888.50,810.84 L889.50,810.82 L890.50,810.80 L891.50,810.77 L892.50,810.75 L893.50,810.73 L894.50,810.70 L895.50,810.68 L896.50,810.65 L897.50,810.63 L898.50,810.60 L899.50,810.57 L900.50,810.54 L901.50,810.51 L902.50,810.48 L903.50,810.45 L904.50,810.42 L905.50,810.38 L906.50,810.35 L907.50,810.31 L908.50,810.28 L909.50,810.24 L910.50,810.20 L911.50,810.16 L912.50,810.12 L913.50,810.07 L914.50,810.03 L915.50,809.98 L916.50,809.94 L917.50,809.89 L918.50,809.83 L919.50,809.78 L920.50,809.73 L921.50,809.67 L922.50,809.61 L923.50,809.55 L924.50,809.48 L925.50,809.42 L926.50,809.35 L927.50,809.28 L928.50,809.20 L929.50,809.12 L930.50,809.04 L931.50,808.96 L932.50,808.87 L933.50,808.78 L934.50,808.68 L935.50,808.58 L936.50,808.48 L937.50,808.37 L938.50,808.26 L939.50,808.14 L940.50,808.01 L941.50,807.88 L942.50,807.75 L943.50,807.60 L944.50,807.45 L945.50,807.30 L946.50,807.13 L947.50,806.96 L948.50,806.77 L949.50,806.58 L950.50,806.38 L951.50,806.16 L952.50,805.94 L953.50,805.70 L954.50,805.45 L955.50,805.18 L956.50,804.90 L957.50,804.61 L958.50,804.30 L959.50,803.96 L960.50,803.61 L961.50,803.24 L962.50,802.85 L963.50,802.43 L964.50,801.99 L965.50,801.53 L966.50,801.03 L967.50,800.51 L968.50,799.96 L969.50,799.37 L970.50,798.75 L971.50,798.10 L972.50,797.41 L973.50,796.69 L974.50,795.92 L975.50,795.12 L976.50,794.28 L977.50,793.40 L978.50,792.49 L979.50,791.54 L980.50,790.57 L981.50,789.57 L982.50,788.55 L983.50,787.52 L984.50,786.48 L985.50,785.46 L986.50,784.46 L987.50,783.50 L988.50,782.59 L989.50,781.75 L990.50,780.99 L991.50,780.35 L992.50,779.81 L993.50,779.42 L994.50,779.16 L995.50,779.05 L996.50,779.10 L997.50,779.30 L998.50,779.64 L999.50,780.12 L1000.50,780.72 L1001.50,781.44 L1002.50,782.24 L1003.50,783.13 L1004.50,784.07 L1005.50,785.06 L1006.50,786.07 L1007.50,787.10 L1008.50,788.14 L1009.50,789.16 L1010.50,790.17 L1011.50,791.16 L1012.50,792.11 L1013.50,793.04 L1014.50,793.93 L1015.50,794.79 L1016.50,795.61 L1017.50,796.38 L1018.50,797.13 L1019.50,797.83 L1020.50,798.50 L1021.50,799.13 L1022.50,799.73 L1023.50,800.29 L1024.50,800.83 L1025.50,801.33 L1026.50,801.81 L1027.50,802.26 L1028.50,802.69 L1029.50,803.09 L1030.50,803.47 L1031.50,803.83 L1032.50,804.16 L1033.50,804.49 L1034.50,804.79 L1035.50,805.07 L1036.50,805.35 L1037.50,805.60 L1038.50,805.84 L1039.50,806.07 L1040.50,806.29 L1041.50,806.50 L1042.50,806.70 L1043.50,806.88 L1044.50,807.06 L1045.50,807.23 L1046.50,807.39 L1047.50,807.54 L1048.50,807.69 L1049.50,807.83 L1050.50,807.96 L1051.50,808.09 L1052.50,808.21 L1053.50,808.33 L1054.50,808.44 L1055.50,808.54 L1056.50,808.64 L1057.50,808.74 L1058.50,808.83 L1059.50,808.92 L1060.50,809.01 L1061.50,809.09 L1062.50,809.17 L1063.50,809.25 L1064.50,809.32 L1065.50,809.39 L1066.50,809.46 L1067.50,809.52 L1068.50,809.58 L1069.50,809.64 L1070.50,809.70 L1071.50,809.76 L1072.50,809.81 L1073.50,809.87 L1074.50,809.92 L1075.50,809.96 L1076.50,810.01 L1077.50,810.06 L1078.50,810.10 L1079.50,810.14 L1080.50,810.18 L1081.50,810.22 L1082.50,810.26 L1083.50,810.30 L1084.50,810.34 L1085.50,810.37 L1086.50,810.40 L1087.50,810.44 L1088.50,810.47 L1089.50,810.50 L1090.50,810.53 L1091.50,810.56 L1092.50,810.59 L1093.50,810.62 L1094.50,810.64 L1095.50,810.67 L1096.50,810.69 L1097.50,810.72 L1098.50,810.74 L1099.50,810.76 L1100.50,810.79 L1101.50,810.81 L1102.50,810.83 L1103.50,810.85 L1104.50,810.87 L1105.50,810.89 L1106.50,810.91 L1107.50,810.93 L1108.50,810.95 L1109.50,810.97 L1110.50,810.98 L1111.50,811.00 L1112.50,811.02 L1113.50,811.03 L1114.50,811.05 L1115.50,811.06 L1116.50,811.08 L1117.50,811.09 L1118.50,811.11 L1119.50,811.12 L1120.50,811.14 L1121.50,811.15 L1122.50,811.16 L1123.50,811.17 L1124.50,811.19 L1125.50,811.20 L1126.50,811.21 L1127.50,811.22 L1128.50,811.23 L1129.50,811.25 L1130.50,811.26 L1131.50,811.27 L1132.50,811.28 L1133.50,811.29 L1134.50,811.30 L1135.50,811.31 L1136.50,811.32 L1137.50,811.33 L1138.50,811.34 L1139.50,811.34 L1140.50,811.35 L1141.50,811.36 L1142.50,811.37 L1143.50,811.38 L1144.50,811.39 L1145.50,811.39 L1146.50,811.40 L1147.50,811.41 L1148.50,811.42 L1149.50,811.43 L1150.50,811.43 L1151.50,811.44 L1152.50,811.45 L1153.50,811.45 L1154.50,811.46 L1155.50,811.47 L1156.50,811.47 L1157.50,811.48 L1158.50,811.49 L1159.50,811.49 L1160.50,811.50 L1161.50,811.50 L1162.50,811.51 L1163.50,811.52 L1164.50,811.52 L1165.50,811.53 L1166.50,811.53 L1167.50,811.54 L1168.50,811.54 L1169.50,811.55 L1170.50,811.55 L1171.50,811.56 L1172.50,811.56 L1173.50,811.57 L1174.50,811.57 L1175.50,811.58 L1176.50,811.58 L1177.50,811.59 L1178.50,811.59 L1179.50,811.60 L1180.50,811.60 L1181.50,811.60" stroke="#1a1a1a" stroke-width="1.45" fill="none" stroke-dasharray="3.8 2.2"/>
<path d="M736.50,806.20 L737.50,806.16 L738.50,806.12 L739.50,806.09 L740.50,806.05 L741.50,806.01 L742.50,805.97 L743.50,805.93 L744.50,805.89 L745.50,805.85 L746.50,805.81 L747.50,805.77 L748.50,805.73 L749.50,805.69 L750.50,805.64 L751.50,805.60 L752.50,805.56 L753.50,805.51 L754.50,805.47 L755.50,805.43 L756.50,805.38 L757.50,805.34 L758.50,805.29 L759.50,805.24 L760.50,805.20 L761.50,805.15 L762.50,805.10 L763.50,805.05 L764.50,805.00 L765.50,804.95 L766.50,804.91 L767.50,804.85 L768.50,804.80 L769.50,804.75 L770.50,804.70 L771.50,804.65 L772.50,804.60 L773.50,804.54 L774.50,804.49 L775.50,804.43 L776.50,804.38 L777.50,804.32 L778.50,804.27 L779.50,804.21 L780.50,804.15 L781.50,804.09 L782.50,804.03 L783.50,803.97 L784.50,803.91 L785.50,803.85 L786.50,803.79 L787.50,803.73 L788.50,803.66 L789.50,803.60 L790.50,803.54 L791.50,803.47 L792.50,803.40 L793.50,803.34 L794.50,803.27 L795.50,803.20 L796.50,803.13 L797.50,803.06 L798.50,802.99 L799.50,802.92 L800.50,802.85 L801.50,802.77 L802.50,802.70 L803.50,802.63 L804.50,802.55 L805.50,802.47 L806.50,802.40 L807.50,802.32 L808.50,802.24 L809.50,802.16 L810.50,802.07 L811.50,801.99 L812.50,801.91 L813.50,801.82 L814.50,801.74 L815.50,801.65 L816.50,801.56 L817.50,801.47 L818.50,801.38 L819.50,801.29 L820.50,801.20 L821.50,801.11 L822.50,801.01 L823.50,800.92 L824.50,800.82 L825.50,800.72 L826.50,800.62 L827.50,800.52 L828.50,800.42 L829.50,800.31 L830.50,800.21 L831.50,800.10 L832.50,799.99 L833.50,799.88 L834.50,799.77 L835.50,799.66 L836.50,799.55 L837.50,799.43 L838.50,799.31 L839.50,799.19 L840.50,799.07 L841.50,798.95 L842.50,798.83 L843.50,798.70 L844.50,798.58 L845.50,798.45 L846.50,798.32 L847.50,798.18 L848.50,798.05 L849.50,797.91 L850.50,797.77 L851.50,797.63 L852.50,797.49 L853.50,797.35 L854.50,797.20 L855.50,797.05 L856.50,796.90 L857.50,796.75 L858.50,796.59 L859.50,796.43 L860.50,796.27 L861.50,796.11 L862.50,795.94 L863.50,795.77 L864.50,795.60 L865.50,795.43 L866.50,795.25 L867.50,795.07 L868.50,794.89 L869.50,794.71 L870.50,794.52 L871.50,794.33 L872.50,794.14 L873.50,793.94 L874.50,793.74 L875.50,793.53 L876.50,793.33 L877.50,793.12 L878.50,792.90 L879.50,792.68 L880.50,792.46 L881.50,792.24 L882.50,792.01 L883.50,791.78 L884.50,791.54 L885.50,791.30 L886.50,791.05 L887.50,790.80 L888.50,790.55 L889.50,790.29 L890.50,790.02 L891.50,789.75 L892.50,789.48 L893.50,789.20 L894.50,788.91 L895.50,788.62 L896.50,788.33 L897.50,788.03 L898.50,787.72 L899.50,787.41 L900.50,787.09 L901.50,786.76 L902.50,786.43 L903.50,786.09 L904.50,785.75 L905.50,785.40 L906.50,785.04 L907.50,784.67 L908.50,784.29 L909.50,783.91 L910.50,783.52 L911.50,783.12 L912.50,782.72 L913.50,782.30 L914.50,781.88 L915.50,781.44 L916.50,781.00 L917.50,780.55 L918.50,780.08 L919.50,779.61 L920.50,779.13 L921.50,778.63 L922.50,778.13 L923.50,777.61 L924.50,777.08 L925.50,776.54 L926.50,775.99 L927.50,775.42 L928.50,774.85 L929.50,774.26 L930.50,773.65 L931.50,773.03 L932.50,772.40 L933.50,771.75 L934.50,771.09 L935.50,770.41 L936.50,769.71 L937.50,769.00 L938.50,768.27 L939.50,767.53 L940.50,766.76 L941.50,765.98 L942.50,765.18 L943.50,764.36 L944.50,763.52 L945.50,762.67 L946.50,761.79 L947.50,760.89 L948.50,759.97 L949.50,759.02 L950.50,758.06 L951.50,757.07 L952.50,756.06 L953.50,755.02 L954.50,753.96 L955.50,752.88 L956.50,751.76 L957.50,750.63 L958.50,749.46 L959.50,748.27 L960.50,747.05 L961.50,745.81 L962.50,744.53 L963.50,743.23 L964.50,741.89 L965.50,740.53 L966.50,739.13 L967.50,737.70 L968.50,736.24 L969.50,734.75 L970.50,733.22 L971.50,731.66 L972.50,730.07 L973.50,728.44 L974.50,726.78 L975.50,725.08 L976.50,723.35 L977.50,721.58 L978.50,719.77 L979.50,717.93 L980.50,716.05 L981.50,714.13 L982.50,712.18 L983.50,710.18 L984.50,708.15 L985.50,706.09 L986.50,703.98 L987.50,701.84 L988.50,699.66 L989.50,697.44 L990.50,695.19 L991.50,692.90 L992.50,690.58 L993.50,688.22 L994.50,685.83 L995.50,683.40 L996.50,680.95 L997.50,678.46 L998.50,675.94 L999.50,673.40 L1000.50,670.83 L1001.50,668.24 L1002.50,665.63 L1003.50,663.00 L1004.50,660.35 L1005.50,657.69 L1006.50,655.02 L1007.50,652.34 L1008.50,649.66 L1009.50,646.98 L1010.50,644.31 L1011.50,641.64 L1012.50,638.99 L1013.50,636.36 L1014.50,633.75 L1015.50,631.17 L1016.50,628.62 L1017.50,626.12 L1018.50,623.66 L1019.50,621.25 L1020.50,618.90 L1021.50,616.62 L1022.50,614.40 L1023.50,612.27 L1024.50,610.22 L1025.50,608.26 L1026.50,606.39 L1027.50,604.63 L1028.50,602.98 L1029.50,601.45 L1030.50,600.03 L1031.50,598.74 L1032.50,597.58 L1033.50,596.55 L1034.50,595.67 L1035.50,594.92 L1036.50,594.32 L1037.50,593.87 L1038.50,593.57 L1039.50,593.42 L1040.50,593.42 L1041.50,593.57 L1042.50,593.87 L1043.50,594.32 L1044.50,594.92 L1045.50,595.67 L1046.50,596.55 L1047.50,597.58 L1048.50,598.74 L1049.50,600.03 L1050.50,601.45 L1051.50,602.98 L1052.50,604.63 L1053.50,606.39 L1054.50,608.26 L1055.50,610.22 L1056.50,612.27 L1057.50,614.40 L1058.50,616.62 L1059.50,618.90 L1060.50,621.25 L1061.50,623.66 L1062.50,626.12 L1063.50,628.62 L1064.50,631.17 L1065.50,633.75 L1066.50,636.36 L1067.50,638.99 L1068.50,641.64 L1069.50,644.31 L1070.50,646.98 L1071.50,649.66 L1072.50,652.34 L1073.50,655.02 L1074.50,657.69 L1075.50,660.35 L1076.50,663.00 L1077.50,665.63 L1078.50,668.24 L1079.50,670.83 L1080.50,673.40 L1081.50,675.94 L1082.50,678.46 L1083.50,680.95 L1084.50,683.40 L1085.50,685.83 L1086.50,688.22 L1087.50,690.58 L1088.50,692.90 L1089.50,695.19 L1090.50,697.44 L1091.50,699.66 L1092.50,701.84 L1093.50,703.98 L1094.50,706.09 L1095.50,708.15 L1096.50,710.18 L1097.50,712.18 L1098.50,714.13 L1099.50,716.05 L1100.50,717.93 L1101.50,719.77 L1102.50,721.58 L1103.50,723.35 L1104.50,725.08 L1105.50,726.78 L1106.50,728.44 L1107.50,730.07 L1108.50,731.66 L1109.50,733.22 L1110.50,734.75 L1111.50,736.24 L1112.50,737.70 L1113.50,739.13 L1114.50,740.53 L1115.50,741.89 L1116.50,743.23 L1117.50,744.53 L1118.50,745.81 L1119.50,747.05 L1120.50,748.27 L1121.50,749.46 L1122.50,750.63 L1123.50,751.76 L1124.50,752.88 L1125.50,753.96 L1126.50,755.02 L1127.50,756.06 L1128.50,757.07 L1129.50,758.06 L1130.50,759.02 L1131.50,759.97 L1132.50,760.89 L1133.50,761.79 L1134.50,762.67 L1135.50,763.52 L1136.50,764.36 L1137.50,765.18 L1138.50,765.98 L1139.50,766.76 L1140.50,767.53 L1141.50,768.27 L1142.50,769.00 L1143.50,769.71 L1144.50,770.41 L1145.50,771.09 L1146.50,771.75 L1147.50,772.40 L1148.50,773.03 L1149.50,773.65 L1150.50,774.26 L1151.50,774.85 L1152.50,775.42 L1153.50,775.99 L1154.50,776.54 L1155.50,777.08 L1156.50,777.61 L1157.50,778.13 L1158.50,778.63 L1159.50,779.13 L1160.50,779.61 L1161.50,780.08 L1162.50,780.55 L1163.50,781.00 L1164.50,781.44 L1165.50,781.88 L1166.50,782.30 L1167.50,782.72 L1168.50,783.12 L1169.50,783.52 L1170.50,783.91 L1171.50,784.29 L1172.50,784.67 L1173.50,785.04 L1174.50,785.40 L1175.50,785.75 L1176.50,786.09 L1177.50,786.43 L1178.50,786.76 L1179.50,787.09 L1180.50,787.41 L1181.50,787.72" stroke="#1a1a1a" stroke-width="1.45" fill="none" stroke-dasharray="3.8 2.2"/>
<path d="M736.60,782.20C739.35,780.33 747.82,774.77 753.10,771.00C758.38,767.23 764.08,763.62 768.30,759.60C772.52,755.58 775.45,751.12 778.40,746.90C781.35,742.68 783.45,739.58 786.00,734.30C788.55,729.02 791.22,724.17 793.70,715.20C796.18,706.23 798.38,692.63 800.90,680.50C803.42,668.37 806.17,655.88 808.80,642.40C811.43,628.92 814.58,612.50 816.70,599.60C818.82,586.70 820.20,574.85 821.50,565.00C822.80,555.15 823.47,548.28 824.50,540.50C825.53,532.72 826.63,524.90 827.70,518.30C828.77,511.70 829.58,506.72 830.90,500.90C832.22,495.08 834.02,487.77 835.60,483.40C837.18,479.03 838.83,477.22 840.40,474.70C841.97,472.18 843.18,472.75 845.00,468.30C846.82,463.85 849.18,455.67 851.30,448.00C853.42,440.33 855.58,430.80 857.70,422.30C859.82,413.80 861.88,403.07 864.00,397.00C866.12,390.93 868.68,386.97 870.40,385.90C872.12,384.83 872.98,385.58 874.30,390.60C875.62,395.62 876.97,407.55 878.30,416.00C879.63,424.45 880.98,432.05 882.30,441.30C883.62,450.55 885.00,460.88 886.20,471.50C887.40,482.12 887.88,491.80 889.50,505.00C891.12,518.20 893.97,536.03 895.90,550.70C897.83,565.37 899.58,582.25 901.10,593.00C902.62,603.75 903.30,607.05 905.00,615.20C906.70,623.35 909.18,633.87 911.30,641.90C913.42,649.93 915.37,657.27 917.70,663.40C920.03,669.53 922.87,675.42 925.30,678.70C927.73,681.98 929.97,683.10 932.30,683.10C934.63,683.10 936.87,681.77 939.30,678.70C941.73,675.63 944.58,669.37 946.90,664.70C949.22,660.03 951.52,653.70 953.20,650.70C954.88,647.70 955.52,646.90 957.00,646.70C958.48,646.50 960.20,647.98 962.10,649.50C964.00,651.02 966.50,654.12 968.40,655.80C970.30,657.48 971.80,659.60 973.50,659.60C975.20,659.60 976.68,658.33 978.60,655.80C980.52,653.27 982.43,648.92 985.00,644.40C987.57,639.88 990.38,634.50 994.00,628.70C997.62,622.90 1002.47,615.95 1006.70,609.60C1010.93,603.25 1015.80,595.47 1019.40,590.60C1023.00,585.73 1025.33,583.05 1028.30,580.40C1031.27,577.75 1034.67,575.12 1037.20,574.70C1039.73,574.28 1041.40,575.88 1043.50,577.90C1045.60,579.92 1047.88,583.42 1049.80,586.80C1051.72,590.18 1053.33,594.03 1055.00,598.20C1056.67,602.37 1057.77,605.83 1059.80,611.80C1061.83,617.77 1064.73,626.85 1067.20,634.00C1069.67,641.15 1072.13,648.28 1074.60,654.70C1077.07,661.12 1079.53,666.78 1082.00,672.50C1084.47,678.22 1086.65,683.00 1089.40,689.00C1092.15,695.00 1095.75,703.15 1098.50,708.50C1101.25,713.85 1103.43,717.03 1105.90,721.10C1108.37,725.17 1110.83,729.20 1113.30,732.90C1115.77,736.60 1117.47,739.48 1120.70,743.30C1123.93,747.12 1128.58,752.02 1132.70,755.80C1136.82,759.58 1141.17,762.83 1145.40,766.00C1149.63,769.17 1153.88,772.37 1158.10,774.80C1162.32,777.23 1166.68,779.12 1170.70,780.60C1174.72,782.08 1180.28,783.18 1182.20,783.70" stroke="#5093d8" stroke-width="1.15" fill="none" stroke-linejoin="round"/>
<polygon points="1004.8,679 1017,702.8 1008.8,702.8 1008.8,743.8 1000.7,743.8 1000.7,702.8 992.6,702.8" fill="#4472c4"/>
<polygon points="1047.2,699.7 1055.3,699.7 1055.3,740.6 1063.8,740.6 1051.3,764.8 1038.7,740.6 1047.2,740.6" fill="#4472c4"/>
<text x="12.8" y="36.6" class="pl">A</text>
<text x="0" y="0" class="pl" transform="translate(738,38.7) scale(0.95,1)">B</text>
<text x="613.5" y="40.8" class="wl">2w</text>
<text x="613.5" y="263.6" class="wl">1w</text>
<text x="613.5" y="589.3" class="wl">0w</text>
<text x="1227" y="258" class="wl">2w</text>
<text x="1227.5" y="482" class="wl">1w</text>
<text x="1227.5" y="786.5" class="wl">0w</text>
<text x="0" y="0" class="dl" transform="translate(363.5,45) scale(1.1,1)">δ</text>
<text x="395.2" y="61.5" class="nh" textLength="57.5" lengthAdjust="spacingAndGlyphs">NH</text>
<text x="453" y="67.5" class="n2">2</text>
<text x="521" y="942.8" class="xl">wavenumber / cm</text>
<text x="796" y="933" class="xs">-1</text>
</svg>
</body></html>
